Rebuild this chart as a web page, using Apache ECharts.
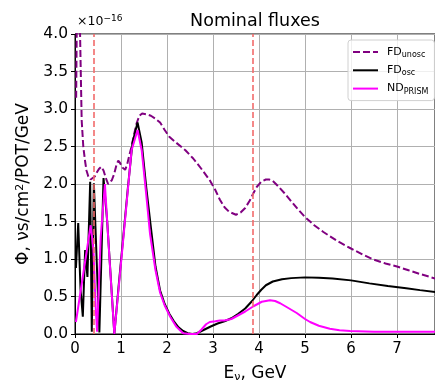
<!DOCTYPE html>
<html><head><meta charset="utf-8">
<script src="https://cdn.jsdelivr.net/npm/echarts@6/dist/echarts.min.js"></script>
<style>html,body{margin:0;padding:0;background:#fff}#c{width:435px;height:381px}</style>
</head><body><div id="c"></div>
<script>
const unoscX = [0.025,0.045,0.09,0.11,0.145,0.18,0.22,0.25,0.29,0.34,0.38,0.43,0.47,0.52,0.57,0.62,0.67,0.72,0.76,0.8,0.85,0.9,0.94,0.98,1.03,1.09,1.13,1.18,1.23,1.28,1.34,1.4,1.46,1.55,1.65,1.75,1.85,1.95,2.05,2.2,2.4,2.57,2.75,2.93,3.05,3.15,3.25,3.35,3.5,3.6,3.7,3.8,3.88,3.95,4.05,4.15,4.22,4.3,4.4,4.55,4.7,4.85,5.0,5.2,5.4,5.7,6.0,6.25,6.5,6.75,7.0,7.25,7.5,7.83];
const unoscY = [3.15,4.6,4.8,4.0,2.85,2.5,2.3,2.18,2.1,2.06,2.06,2.1,2.15,2.2,2.23,2.18,2.08,2.0,2.0,2.05,2.13,2.25,2.31,2.28,2.22,2.19,2.25,2.38,2.5,2.65,2.81,2.91,2.94,2.93,2.91,2.87,2.82,2.72,2.63,2.55,2.45,2.34,2.2,2.05,1.92,1.79,1.69,1.63,1.59,1.62,1.68,1.78,1.88,1.96,2.03,2.06,2.06,2.04,1.98,1.88,1.77,1.66,1.56,1.45,1.36,1.24,1.14,1.06,0.99,0.94,0.9,0.85,0.8,0.74];

const oscX = [0.02,0.07,0.12,0.17,0.22,0.27,0.33,0.365,0.41,0.5,0.53,0.62,0.7,0.78,0.855,0.95,1.05,1.15,1.25,1.36,1.45,1.55,1.65,1.75,1.85,1.95,2.05,2.15,2.25,2.35,2.45,2.55,2.65,2.75,2.85,2.95,3.1,3.25,3.4,3.55,3.7,3.85,3.95,4.05,4.15,4.3,4.5,4.7,5.0,5.3,5.6,6.0,6.4,6.8,7.2,7.5,7.83];
const oscY = [0.88,1.48,0.6,0.23,1.12,0.76,2.03,0.03,2.01,0.5,0.02,2.08,1.5,0.73,0.0,0.65,1.3,1.95,2.55,2.82,2.55,1.95,1.42,0.9,0.58,0.4,0.27,0.17,0.09,0.04,0.01,0.0,0.01,0.04,0.07,0.1,0.14,0.17,0.21,0.27,0.34,0.44,0.52,0.59,0.65,0.7,0.73,0.745,0.755,0.75,0.74,0.715,0.675,0.64,0.61,0.585,0.56];

const prismX = [0.02,0.34,0.37,0.4,0.45,0.48,0.56,0.65,0.75,0.855,0.95,1.05,1.15,1.23,1.36,1.45,1.55,1.63,1.75,1.85,1.95,2.07,2.2,2.35,2.5,2.65,2.75,2.85,2.93,3.05,3.15,3.25,3.4,3.55,3.7,3.88,4.06,4.24,4.35,4.46,4.6,4.82,5.0,5.11,5.3,5.54,5.75,5.98,6.5,7.0,7.83];
const prismY = [0.16,1.45,1.3,1.12,0.35,0.03,1.3,2.0,1.0,0.0,0.62,1.27,1.93,2.45,2.72,2.45,1.85,1.34,0.85,0.55,0.38,0.23,0.1,0.01,0.0,0.0,0.06,0.13,0.16,0.17,0.18,0.18,0.2,0.25,0.3,0.37,0.43,0.45,0.44,0.41,0.36,0.28,0.2,0.16,0.11,0.07,0.05,0.04,0.03,0.03,0.03];

const refLines = [0.4, 3.87];
const names = ['FD_unosc','FD_osc','ND_PRISM'];

const zip = (a,b) => a.map((v,i)=>[v,b[i]]);
const FONT = 'DejaVu Sans';
const chart = echarts.init(document.getElementById('c'), null, {renderer:'canvas'});
const legendLabels = {FD_unosc:'{n|FD}{s|unosc}', FD_osc:'{n|FD}{s|osc}', ND_PRISM:'{n|ND}{s|PRISM}'};
const SOLID = 'path://M0,0H25V2H0Z';
const DASHED = 'path://M0,0H7V2H0Z M10,0H17V2H10Z M20,0H25V2H20Z';

chart.setOption({
  animation:false,
  backgroundColor:'#fff',
  textStyle:{fontFamily:FONT},
  grid:{left:75,right:0,top:34,bottom:47,outerBoundsMode:'none',containLabel:false,show:true,borderColor:'#000',borderWidth:1,backgroundColor:'transparent'},
  xAxis:{type:'value',min:0,max:7.826,interval:1,
    name:'E{sub|ν}, GeV',nameLocation:'middle',nameGap:30,
    nameTextStyle:{fontSize:17,color:'#000',fontFamily:FONT,rich:{sub:{fontSize:11,verticalAlign:'bottom',padding:[8,0,0,0],fontFamily:FONT,color:'#000'}}},
    axisLine:{show:true,lineStyle:{color:'#000',width:1}},
    axisTick:{show:true,length:4,inside:false,lineStyle:{color:'#000'}},
    axisLabel:{fontSize:15,color:'#000',margin:8,formatter:v=>(Math.abs(v-Math.round(v))<1e-6?String(Math.round(v)):'')},
    splitLine:{show:true,lineStyle:{color:'#b0b0b0',width:1}}},
  yAxis:{type:'value',min:0,max:4,interval:0.5,
    name:'Φ, νs/cm{sup|2}/POT/GeV',nameLocation:'middle',nameGap:39,
    nameTextStyle:{fontSize:17,color:'#000',fontFamily:FONT,rich:{sup:{fontSize:11,verticalAlign:'top',padding:[0,0,8,0],fontFamily:FONT,color:'#000'}}},
    axisLine:{show:true,lineStyle:{color:'#000',width:1}},
    axisTick:{show:true,length:4,inside:false,lineStyle:{color:'#000'}},
    axisLabel:{fontSize:15.5,color:'#000',margin:7,formatter:v=>v.toFixed(1)},
    splitLine:{show:true,lineStyle:{color:'#b0b0b0',width:1}}},
  legend:{data:[{name:names[0],icon:DASHED},{name:names[1],icon:SOLID},{name:names[2],icon:SOLID}],
    orient:'vertical',left:348,top:40,itemWidth:25,itemHeight:2,itemGap:4.3,
    padding:[5,6,5,5],borderColor:'#d0d0d0',borderWidth:1,borderRadius:3,backgroundColor:'rgba(255,255,255,0.8)',
    formatter:n=>legendLabels[n],
    textStyle:{color:'#000',lineHeight:14,rich:{n:{fontSize:11,lineHeight:14,fontFamily:FONT,color:'#000',padding:[0,0,0,4]},s:{fontSize:8,lineHeight:14,fontFamily:FONT,color:'#000',verticalAlign:'bottom',padding:[5,0,0,0]}}}},
  graphic:[
    {type:'text',x:255,y:21,style:{text:'Nominal fluxes',font:'17.5px "DejaVu Sans"',fill:'#000',textAlign:'center',textVerticalAlign:'middle'}},
    {type:'text',x:77,y:14,style:{text:'×10{s|−16}',rich:{s:{fontSize:9,fontFamily:FONT,verticalAlign:'top',padding:[0,0,6,0]}},fontSize:12.5,fontFamily:FONT,fill:'#000'}}
  ],
  series:[
    {name:'FD_unosc',type:'line',data:zip(unoscX,unoscY),symbol:'none',showSymbol:false,clip:true,z:2,
      lineStyle:{color:'#800080',width:2,type:[7,3]},itemStyle:{color:'#800080'}},
    {name:'FD_osc',type:'line',data:zip(oscX,oscY),symbol:'none',showSymbol:false,clip:true,z:3,
      lineStyle:{color:'#000',width:2},itemStyle:{color:'#000'}},
    {name:'ND_PRISM',type:'line',data:zip(prismX,prismY),symbol:'none',showSymbol:false,clip:true,z:4,
      lineStyle:{color:'#ff00ff',width:2},itemStyle:{color:'#ff00ff'}},
    {name:'ref',type:'line',data:[],symbol:'none',z:5,
      markLine:{silent:true,symbol:'none',label:{show:false},animation:false,
        lineStyle:{color:'#f26b6b',width:1.6,type:[6,3]},
        data:refLines.map(v=>({xAxis:v}))}}
  ]
});
</script></body></html>
